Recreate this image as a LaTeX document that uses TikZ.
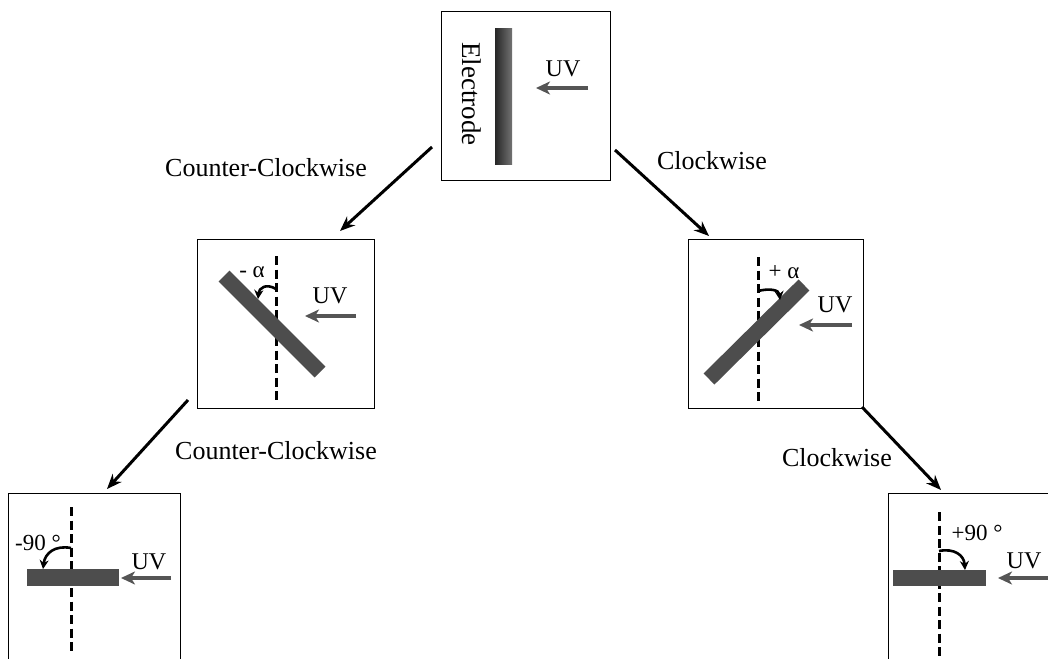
\documentclass[tikz,border=0pt]{standalone}
\usepackage{fontspec}
\setmainfont{Liberation Serif}
\usetikzlibrary{arrows.meta}
\definecolor{bargray}{HTML}{4D4D4D}
\definecolor{uvgray}{HTML}{555555}
\tikzset{
  panel/.style={draw=black, line width=1pt, inner sep=0pt},
  flow/.style={line width=3pt, -{Stealth[length=15pt,width=12pt]}},
  uvarrow/.style={draw=uvgray, line width=3.8pt, -{Stealth[length=14pt,width=13pt,inset=4pt]}},
  axisline/.style={line width=3pt, dash pattern=on 9pt off 4.5pt},
  turn/.style={line width=2.6pt, -{Stealth[length=9pt,width=9pt]}},
  bar/.style={draw=bargray, line width=15.5pt},
  lbl/.style={font=\fontsize{26pt}{28pt}\selectfont, inner sep=0pt},
  eltxt/.style={font=\fontsize{27pt}{29pt}\selectfont, inner sep=0pt},
  uvtxt/.style={font=\fontsize{24pt}{26pt}\selectfont, inner sep=0pt},
  angtxt/.style={font=\fontsize{23pt}{25pt}\selectfont, inner sep=0pt}
}
\begin{document}
\begin{tikzpicture}[x=1pt,y=-1pt]
\clip (0,0) rectangle (1048,658);
\fill[white] (0,0) rectangle (1048,658);

% panels
\draw[panel] (441,12) rectangle (610,180);
\node (top) at (525.5,96) [minimum width=169pt, minimum height=168pt] {};
\draw[panel] (197,239) rectangle (374,408);
\node (ml) at (285.5,323.5) [minimum width=177pt, minimum height=169pt] {};
\draw[panel] (688,239) rectangle (863,408);
\node (mr) at (775.5,323.5) [minimum width=175pt, minimum height=169pt] {};
\draw[panel] (8,493) rectangle (180,680);
\node (bl) at (94,586) [minimum width=172pt, minimum height=187pt] {};
\draw[panel] (888,493) rectangle (1070,680);
\node (br) at (979,586) [minimum width=182pt, minimum height=187pt] {};

% top panel content
\shade[left color=black!85, right color=black!55] (495,29) rectangle (512,164);
\node[eltxt, rotate=-90] (elec) at (472,94) {Electrode};
\node[uvtxt] (uv0) at (563,69) {UV};
\coordinate (uv0s) at (588,88);
\coordinate (uv0e) at (536,88);
\draw[uvarrow] (uv0s) -- (uv0e);

% middle-left panel content
\draw[axisline] (276,256) -- (276,401);
\draw[bar] (224,276) -- (320,372);
\node[angtxt] (am) at (252,272) {- α};
\coordinate (tm1) at (276,289);
\coordinate (tm2) at (258,299);
\draw[turn] (tm1) .. controls (266,283) and (259,288) .. (tm2);
\node[uvtxt] (uv1) at (330,296) {UV};
\coordinate (uv1s) at (356,316);
\coordinate (uv1e) at (305,316);
\draw[uvarrow] (uv1s) -- (uv1e);

% middle-right panel content
\draw[axisline] (758,257) -- (758,402);
\draw[bar] (709,379) -- (804,285);
\node[angtxt] (ap) at (784,272) {+ α};
\coordinate (tp1) at (758,291);
\coordinate (tp2) at (780,300);
\draw[turn] (tp1) .. controls (770,288) and (779,290) .. (tp2);
\node[uvtxt] (uv2) at (835,305) {UV};
\coordinate (uv2s) at (852,325);
\coordinate (uv2e) at (799,325);
\draw[uvarrow] (uv2s) -- (uv2e);

% bottom-left panel content
\draw[axisline] (71,507) -- (71,655);
\fill[bargray] (27,569) rectangle (119,586);
\node[angtxt] (a90m) at (38,543) {-90 °};
\coordinate (t3a) at (71,548);
\coordinate (t3b) at (43,569);
\draw[turn] (t3a) .. controls (55,545) and (45,553) .. (t3b);
\node[uvtxt] (uv3) at (149,562) {UV};
\coordinate (uv3s) at (171,578);
\coordinate (uv3e) at (121,578);
\draw[uvarrow] (uv3s) -- (uv3e);

% bottom-right panel content
\draw[axisline] (939,512) -- (939,660);
\fill[bargray] (893,570) rectangle (986,586);
\node[angtxt] (a90p) at (977,533) {+90 °};
\coordinate (t4a) at (939,551);
\coordinate (t4b) at (965,570);
\draw[turn] (t4a) .. controls (954,548) and (964,555) .. (t4b);
\node[uvtxt] (uv4) at (1024,561) {UV};
\coordinate (uv4s) at (1050,578);
\coordinate (uv4e) at (998,578);
\draw[uvarrow] (uv4s) -- (uv4e);

% connectors
\coordinate (c1s) at (432,147);
\coordinate (c1e) at (340,231);
\draw[flow] (c1s) -- (c1e);
\coordinate (c2s) at (615,150);
\coordinate (c2e) at (709,236);
\draw[flow] (c2s) -- (c2e);
\coordinate (c3s) at (188,400);
\coordinate (c3e) at (107,489);
\draw[flow] (c3s) -- (c3e);
\coordinate (c4s) at (862,407);
\coordinate (c4e) at (941,490);
\draw[flow] (c4s) -- (c4e);

% labels
\node[lbl] (l1) at (266,168) {Counter-Clockwise};
\node[lbl] (l2) at (712,161) {Clockwise};
\node[lbl] (l3) at (276,451) {Counter-Clockwise};
\node[lbl] (l4) at (837,458) {Clockwise};
\end{tikzpicture}
\end{document}
